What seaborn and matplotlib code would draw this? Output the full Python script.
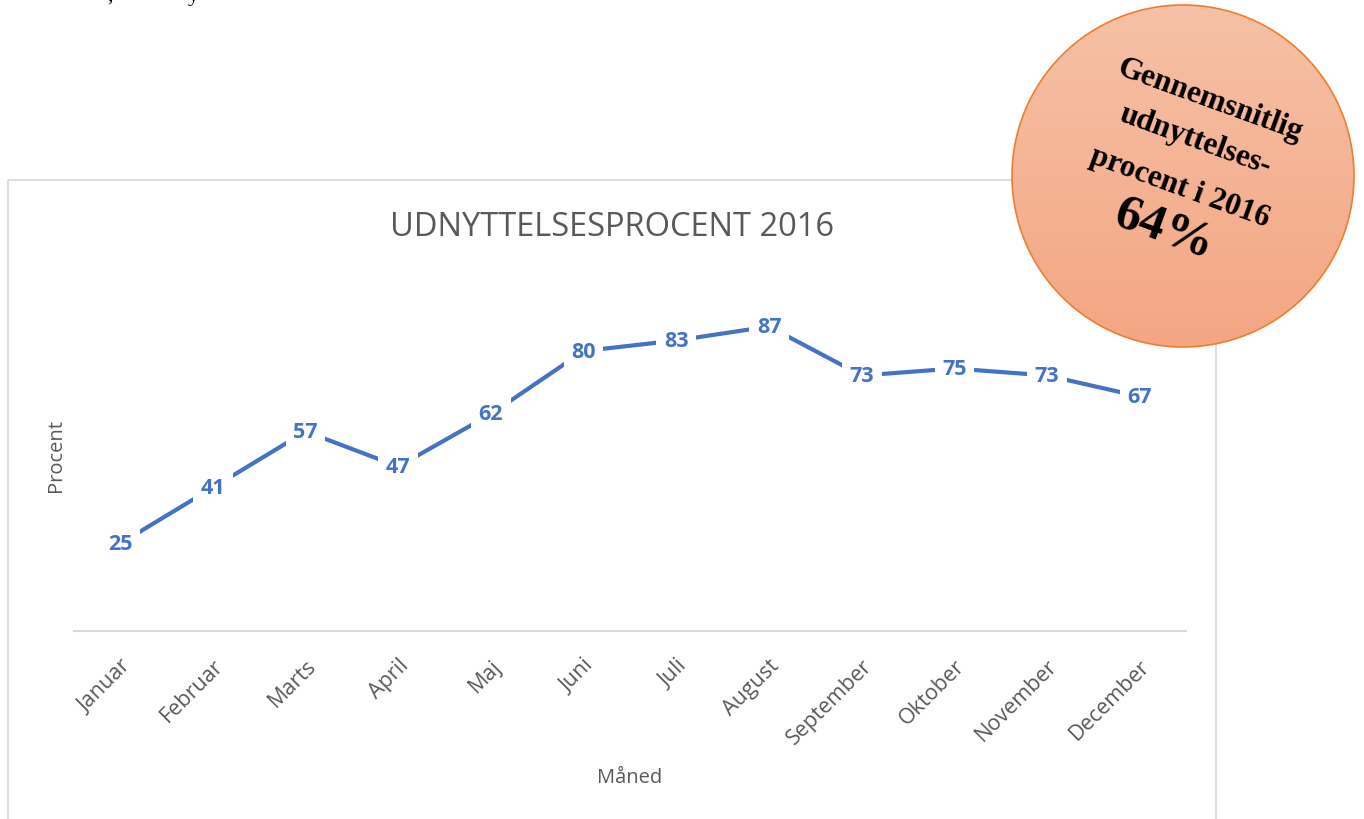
import numpy as np
import pandas as pd
import matplotlib
matplotlib.use("Agg")
import matplotlib.pyplot as plt
from matplotlib.patches import Circle, Rectangle
import seaborn as sns

months = ["Januar", "Februar", "Marts", "April", "Maj", "Juni", "Juli",
          "August", "September", "Oktober", "November", "December"]
values = [25, 41, 57, 47, 62, 80, 83, 87, 73, 75, 73, 67]
title = "UDNYTTELSESPROCENT 2016"
xlabel = "Måned"
ylabel = "Procent"
badge_lines = ["Gennemsnitlig", "udnyttelses-", "procent i 2016"]
badge_value = "64%"

sns.set_theme(style="white")
plt.rcParams['font.family'] = ['Open Sans', 'DejaVu Sans']

W, H = 1364, 820
fig = plt.figure(figsize=(W / 100, H / 100), dpi=100)
fig.patch.set_facecolor("white")

# main axes (pixel box: x 74..1186, y 282..632)
ax = fig.add_axes([74 / W, 1 - 632 / H, 1112 / W, 350 / H])
df = pd.DataFrame({"pos": np.arange(len(months)), "val": values})
blue = "#4472C4"
sns.lineplot(data=df, x="pos", y="val", ax=ax, color=blue, linewidth=3.0,
             sort=False, zorder=2)
for p, v in zip(df["pos"], df["val"]):
    ax.text(p, v, str(v), ha="center", va="center", fontsize=15.5,
            fontweight="bold", color=blue, zorder=3,
            bbox=dict(boxstyle="square,pad=0.35", fc="white", ec="none"))
ax.set_xlim(-0.5, len(months) - 0.5)
ax.set_ylim(0, 100)
ax.set_yticks([])
ax.set_xticks(np.arange(len(months)))
ax.set_xticklabels(months, rotation=45, ha="right", rotation_mode="anchor",
                   fontsize=15.5, color="#595959")
ax.tick_params(axis="x", length=0, pad=17)
for s in ["top", "right", "left"]:
    ax.spines[s].set_visible(False)
ax.spines["bottom"].set_color("#D9D9D9")
ax.spines["bottom"].set_linewidth(1.5)
ax.set_xlabel("")
ax.set_ylabel("")
ax.set_facecolor("none")

# overlay in pixel coordinates
ov = fig.add_axes([0, 0, 1, 1], zorder=5)
ov.set_xlim(0, W)
ov.set_ylim(H, 0)
ov.axis("off")

ov.add_patch(Rectangle((8, 181), 1208, H, fill=False, ec="#D9D9D9", lw=1.2))
ov.text(612, 227, title, ha="center", va="center", fontsize=23.5,
        color="#595959")
ov.text(56, 456, ylabel, ha="center", va="center", rotation=90,
        fontsize=14.5, color="#595959")
ov.text(630, 778, xlabel, ha="center", va="center", fontsize=14.5,
        color="#595959")

# cut-off text at very top (as in the reference)
ov.text(110, 0.5, ",", ha="center", va="baseline", fontsize=16,
        family="Liberation Serif", color="black")
ov.text(193, 0.5, "y", ha="center", va="baseline", fontsize=16,
        family="Liberation Serif", color="black")

# badge circle with gradient
cx, cy, r = 1183, 177, 171
circ = Circle((cx, cy), r, fc="none", ec="#ED7D31", lw=1.2, zorder=6)
top = np.array([246, 193, 166]) / 255
bot = np.array([244, 166, 131]) / 255
t = np.linspace(0, 1, 256)[:, None]
grad = (top[None, :] * (1 - t) + bot[None, :] * t)[:, None, :]
grad = np.repeat(grad, 2, axis=1)
im = ov.imshow(grad, extent=(cx - r, cx + r, cy + r, cy - r), aspect="auto",
               zorder=5, interpolation="bilinear")
clip = Circle((cx, cy), r, transform=ov.transData)
im.set_clip_path(clip)
ov.add_patch(circ)
ov.set_xlim(0, W)
ov.set_ylim(H, 0)

serif = "Liberation Serif"
pos = [(1210, 101), (1195, 141), (1180, 188)]
for (x, y), line in zip(pos, badge_lines):
    ov.text(x, y, line, ha="center", va="center", rotation=-20,
            rotation_mode="anchor", fontsize=22.5, fontweight="bold",
            family=serif, color="black", zorder=7)
ov.text(1164, 230, badge_value, ha="center", va="center", rotation=-20,
        rotation_mode="anchor", fontsize=37, fontweight="bold",
        family=serif, color="black", zorder=7)

fig.savefig("out.png", dpi=100)
